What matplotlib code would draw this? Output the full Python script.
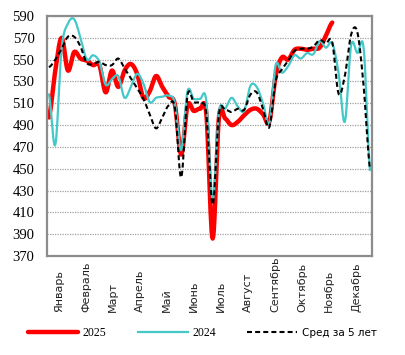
import numpy as np
import matplotlib.pyplot as plt
import matplotlib.transforms as mtransforms

# weekly values, 52 weeks
y2025 = [497, 540, 570, 540, 557, 551, 549, 545, 545, 520, 540, 525, 540, 546,
         537, 515, 521, 535, 525, 516, 509, 463, 508, 503, 505, 500, 386, 497,
         496, 490, 493, 499, 504, 505, 500, 493, 535, 552, 550, 559, 560, 559,
         560, 561, 572, 584]
y2024 = [518, 472, 560, 583, 587, 570, 550, 554, 548, 527, 532, 535, 515, 525,
         537, 528, 511, 515, 516, 517, 510, 467, 521, 514, 514, 512, 422, 502,
         505, 515, 507, 503, 526, 525, 510, 492, 545, 538, 544, 554, 551, 556,
         555, 567, 561, 565, 538, 493, 563, 556, 560, 449]
avg5 = [543, 550, 560, 571, 571, 562, 547, 546, 548, 545, 545, 551, 542, 533,
        524, 514, 500, 487, 497, 508, 506, 442, 517, 511, 510, 500, 417, 500,
        504, 502, 505, 504, 518, 520, 505, 488, 530, 541, 549, 558, 560, 560,
        562, 568, 565, 566, 519, 535, 573, 575, 525, 450]
months = ["Январь", "Февраль", "Март", "Апрель", "Май", "Июнь", "Июль",
          "Август", "Сентябрь", "Октябрь", "Ноябрь", "Декабрь"]
yticks = list(range(370, 591, 20))


def smooth(vals, n=12):
    # Catmull-Rom curve through the weekly points (like Excel smoothed lines)
    p = np.asarray(vals, dtype=float)
    p = np.concatenate([[p[0]], p, [p[-1]]])
    xs, ys = [], []
    t = np.linspace(0, 1, n, endpoint=False)
    for i in range(1, len(p) - 2):
        p0, p1, p2, p3 = p[i - 1], p[i], p[i + 1], p[i + 2]
        yy = 0.5 * ((2 * p1) + (-p0 + p2) * t + (2 * p0 - 5 * p1 + 4 * p2 - p3) * t ** 2
                    + (-p0 + 3 * p1 - 3 * p2 + p3) * t ** 3)
        xs.extend(i - 1 + t)
        ys.extend(yy)
    xs.append(len(vals) - 1)
    ys.append(vals[-1])
    return np.array(xs), np.array(ys)


fig = plt.figure(figsize=(4.05, 3.55), dpi=100)
ax = fig.add_axes([47 / 405, 99 / 355, 325 / 405, 240 / 355])

x, y = smooth(y2025)
ax.plot(x, y, color="#ff0000", lw=3.2, label="2025", solid_capstyle="round")
x, y = smooth(y2024)
ax.plot(x, y, color="#45c8c8", lw=1.6, label="2024")
x, y = smooth(avg5)
ax.plot(x, y, color="black", lw=1.5, dashes=(2.4, 1.5), label="Сред за 5 лет")

ax.set_xlim(-0.32, 51.32)
ax.set_ylim(370, 590)
ax.set_yticks(yticks)
ax.set_yticklabels([str(v) for v in yticks], family="Liberation Serif", fontsize=10.5)
ax.tick_params(axis="y", length=0, pad=9)
ax.set_xticks([])
ax.yaxis.grid(True, linestyle=(0, (1, 1)), color="#a0a0a0", lw=0.9)
ax.set_axisbelow(True)
for s in ax.spines.values():
    s.set_color("#8c8c8c")
    s.set_linewidth(1.6)

trans = mtransforms.blended_transform_factory(ax.transData, ax.transAxes)
for m, name in enumerate(months):
    ax.text(1.6 + 4.29 * m, -0.233, name, transform=trans, rotation=90,
            ha="center", va="bottom", fontsize=8, color="#222222")

leg = fig.legend(loc="center", bbox_to_anchor=(0.5, 22 / 355), ncol=3, frameon=False,
                 handlelength=4.5, handletextpad=0.45, columnspacing=2.8, fontsize=8)
for t in leg.get_texts()[:2]:
    t.set_family("Liberation Serif")
    t.set_fontsize(8.5)
leg.get_texts()[2].set_fontsize(7.5)

plt.savefig("out.png", dpi=100)
